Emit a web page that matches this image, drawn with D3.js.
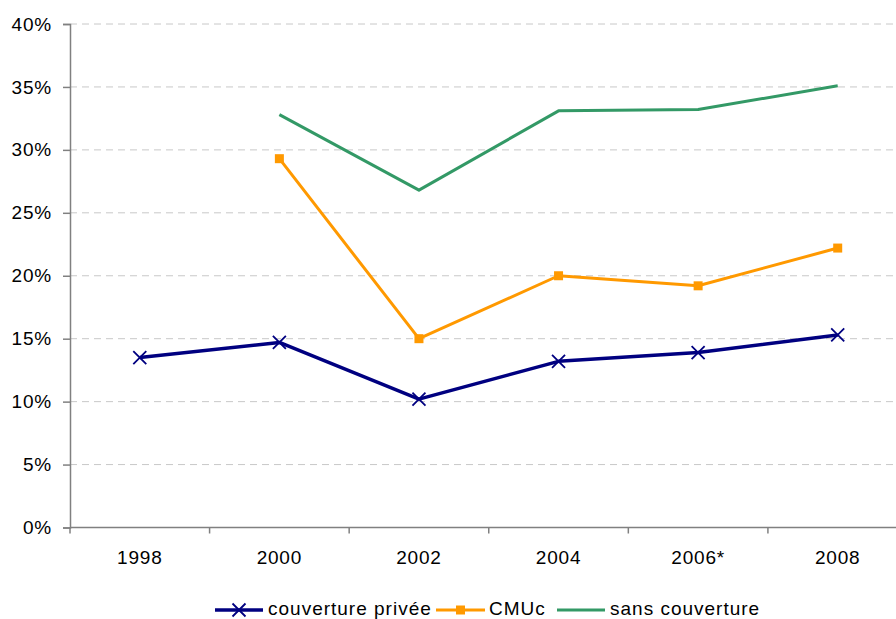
<!DOCTYPE html>
<html><head><meta charset="utf-8">
<script src="https://cdn.jsdelivr.net/npm/d3@7"></script>
<style>body{margin:0;background:#fff}svg{display:block;font-family:"Liberation Sans",Arial,sans-serif}</style>
</head><body><svg id="c" width="896" height="619"></svg>
<script>
const categories = ["1998","2000","2002","2004","2006*","2008"];
const privee = [13.5, 14.7, 10.2, 13.2, 13.9, 15.3];
const cmuc = [null, 29.3, 15.0, 20.0, 19.2, 22.2];
const sans = [null, 32.8, 26.8, 33.1, 33.2, 35.1];
const yTicks = [0,5,10,15,20,25,30,35,40];
const seriesNames = ["couverture privée","CMUc","sans couverture"];

const svg = d3.select("#c");
const mLeft = 70, mRight = 907.5, mTop = 24, mBottom = 527.5;
const x = d3.scaleBand().domain(categories).range([mLeft, mRight]);
const y = d3.scaleLinear().domain([0,40]).range([mBottom, mTop]);

// grid
svg.append("g").selectAll("line").data(yTicks.filter(d=>d>0)).join("line")
  .attr("x1", mLeft).attr("x2", 896).attr("y1", d=>y(d)).attr("y2", d=>y(d))
  .attr("stroke","#c8c8c8").attr("stroke-width",1).attr("stroke-dasharray","7,5");

// y axis
const ya = svg.append("g").attr("transform",`translate(${mLeft},0)`)
  .call(d3.axisLeft(y).tickValues(yTicks).tickFormat(d=>d+"%").tickSize(7).tickPadding(11));
ya.select(".domain").attr("stroke","#808080").attr("stroke-width",1.5);
ya.selectAll(".tick line").attr("stroke","#808080").attr("stroke-width",1.5);
ya.selectAll("text").attr("font-size","19px").attr("letter-spacing","0.8px").attr("fill","#000").attr("font-family","'Liberation Sans',Arial,sans-serif");

// x axis
svg.append("line").attr("x1",mLeft).attr("x2",896).attr("y1",mBottom).attr("y2",mBottom)
  .attr("stroke","#808080").attr("stroke-width",1.5);
const bounds = categories.map(c=>x(c));
svg.append("g").selectAll("line").data(bounds).join("line")
  .attr("x1",d=>d).attr("x2",d=>d).attr("y1",mBottom).attr("y2",mBottom+6)
  .attr("stroke","#808080").attr("stroke-width",1.5);
svg.append("g").selectAll("text").data(categories).join("text")
  .attr("x",d=>x(d)+x.bandwidth()/2).attr("y",564).attr("text-anchor","middle")
  .attr("font-size","19px").attr("letter-spacing","0.8px").text(d=>d);

const cx = c => x(c)+x.bandwidth()/2;
function drawLine(vals,color,w){
  const data = categories.map((c,i)=>({c,v:vals[i]})).filter(d=>d.v!=null);
  svg.append("path").datum(data)
    .attr("d", d3.line().x(d=>cx(d.c)).y(d=>y(d.v)))
    .attr("fill","none").attr("stroke",color).attr("stroke-width",w).attr("stroke-linejoin","round");
  return data;
}
const blue="#000080", orange="#FF9900", green="#339966";
drawLine(sans, green, 3);
const od = drawLine(cmuc, orange, 3);
svg.append("g").selectAll("rect").data(od).join("rect")
  .attr("x",d=>cx(d.c)-4.5).attr("y",d=>y(d.v)-4.5).attr("width",9).attr("height",9).attr("fill",orange);
const bd = drawLine(privee, blue, 3.5);
function cross(g,px,py,s){
  g.append("path").attr("d",`M${px-s},${py-s}L${px+s},${py+s}M${px-s},${py+s}L${px+s},${py-s}`)
   .attr("stroke",blue).attr("stroke-width",1.8).attr("fill","none");
}
const cg = svg.append("g");
bd.forEach(d=>cross(cg,cx(d.c),y(d.v),6.5));

// legend
const ly = 610;
const leg = svg.append("g");
const items = [
  {name:seriesNames[0],color:blue,x1:215,x2:263,tx:268,mark:"x",w:3.5},
  {name:seriesNames[1],color:orange,x1:436,x2:485,tx:489,mark:"s",w:3},
  {name:seriesNames[2],color:green,x1:557,x2:605,tx:610,mark:null,w:3}
];
items.forEach(it=>{
  leg.append("line").attr("x1",it.x1).attr("x2",it.x2).attr("y1",ly).attr("y2",ly)
    .attr("stroke",it.color).attr("stroke-width",it.w);
  const mx=(it.x1+it.x2)/2;
  if(it.mark==="x") cross(leg,mx,ly,6.5);
  if(it.mark==="s") leg.append("rect").attr("x",mx-4.5).attr("y",ly-4.5).attr("width",9).attr("height",9).attr("fill",it.color);
  leg.append("text").attr("x",it.tx).attr("y",ly+5).attr("font-size","19px").attr("letter-spacing","1px").text(it.name);
});
</script></body></html>
